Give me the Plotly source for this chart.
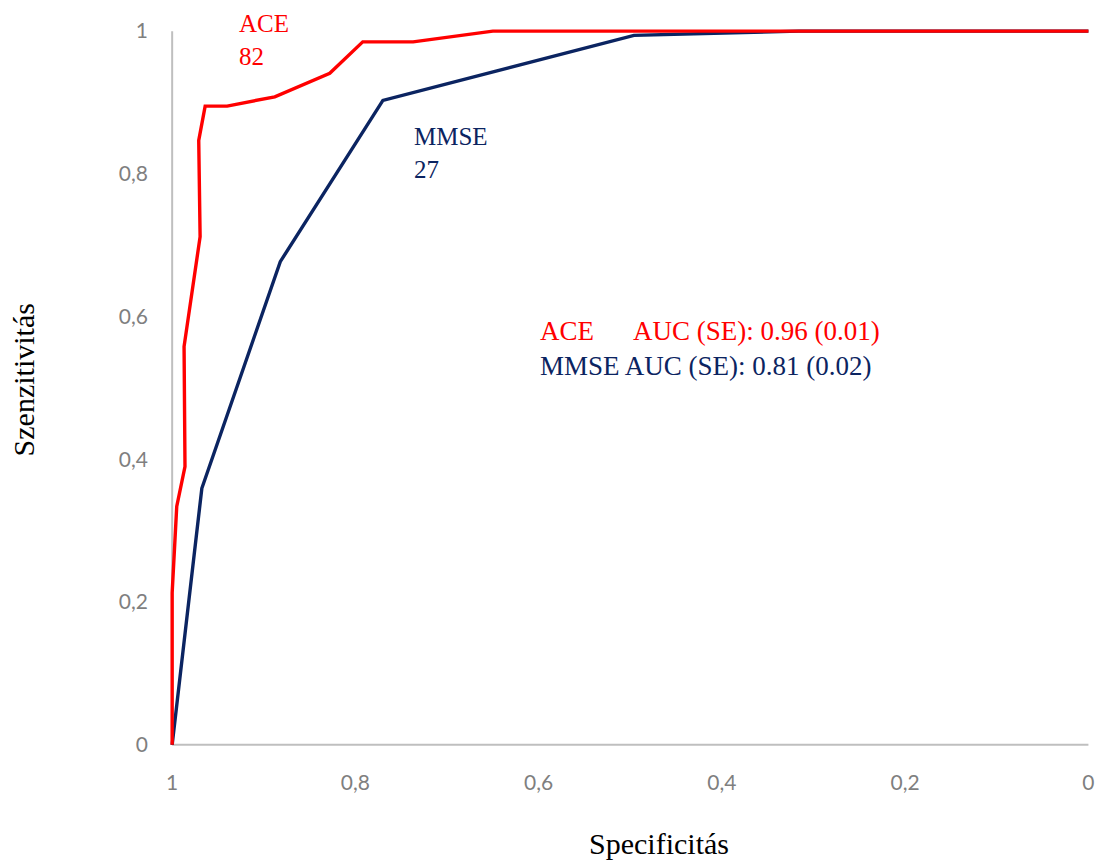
import plotly.graph_objects as go

# ACE ROC curve (specificity, sensitivity)
ace_spec = [1.0, 1.0, 0.995, 0.986, 0.987, 0.9695, 0.971, 0.964, 0.940, 0.888, 0.828, 0.792, 0.737, 0.650, 0.0]
ace_sens = [0.0, 0.213, 0.334, 0.39, 0.558, 0.712, 0.847, 0.895, 0.895, 0.908, 0.941, 0.985, 0.985, 1.0, 1.0]

# MMSE ROC curve
mmse_spec = [1.0, 0.9676, 0.882, 0.770, 0.496, 0.316, 0.0]
mmse_sens = [0.0, 0.3595, 0.677, 0.903, 0.994, 1.0, 1.0]

tick_vals = [0, 0.2, 0.4, 0.6, 0.8, 1]
tick_text = ["0", "0,2", "0,4", "0,6", "0,8", "1"]

RED = "#FF0000"
NAVY = "#0B2461"
GRID = "#BFBFBF"
TICKC = "#7F7F7F"
SERIF = "Liberation Serif, Times New Roman, serif"

fig = go.Figure()
fig.add_trace(go.Scatter(x=mmse_spec, y=mmse_sens, mode="lines",
                         line=dict(color=NAVY, width=3.4), name="MMSE"))
fig.add_trace(go.Scatter(x=ace_spec, y=ace_sens, mode="lines",
                         line=dict(color=RED, width=3.4), name="ACE"))

# axis lines at x=1 and y=0
fig.add_shape(type="line", x0=1, x1=1, y0=0, y1=1, xref="x", yref="y",
              line=dict(color=GRID, width=2), layer="below")
fig.add_shape(type="line", x0=1, x1=0, y0=0, y1=0, xref="x", yref="y",
              line=dict(color=GRID, width=2), layer="below")

fig.add_annotation(x=0.929, y=0.987, xref="x", yref="y", text="ACE<br>82",
                   showarrow=False, xanchor="left", yanchor="middle", align="left",
                   font=dict(family=SERIF, size=25, color=RED))
fig.add_annotation(x=0.738, y=0.829, xref="x", yref="y", text="MMSE<br>27",
                   showarrow=False, xanchor="left", yanchor="middle", align="left",
                   font=dict(family=SERIF, size=25, color=NAVY))
fig.add_annotation(x=0.601, y=0.556, xref="x", yref="y",
                   text=("<span style='color:%s'>ACE\u00a0\u00a0\u00a0\u00a0\u00a0 AUC (SE): 0.96 (0.01)</span><br>"
                         "<span style='color:%s'>MMSE AUC (SE): 0.81 (0.02)</span>") % (RED, NAVY),
                   showarrow=False, xanchor="left", yanchor="middle", align="left",
                   font=dict(family=SERIF, size=27, color=NAVY))

fig.add_annotation(x=-0.149, y=0.511, xref="paper", yref="paper", text="Szenzitivitás",
                   textangle=-90, showarrow=False, xanchor="center", yanchor="middle",
                   font=dict(family=SERIF, size=30, color="#000000"))
fig.add_annotation(x=0.533, y=-0.1, xref="paper", yref="paper", text="Specificitás",
                   showarrow=False, xanchor="center", yanchor="top",
                   font=dict(family=SERIF, size=30, color="#000000"))

fig.update_layout(
    width=1097, height=861,
    margin=dict(l=163, r=2, t=24, b=109),
    paper_bgcolor="white", plot_bgcolor="white",
    showlegend=False,
    xaxis=dict(range=[1.01, -0.005], tickvals=tick_vals, ticktext=tick_text,
               showgrid=False, zeroline=False, showline=False, ticks="",
               ticklabelstandoff=16,
               tickfont=dict(family="Lato, Open Sans, sans-serif", size=21, color=TICKC)),
    yaxis=dict(range=[-0.01, 1.01], tickvals=tick_vals, ticktext=tick_text,
               showgrid=False, zeroline=False, showline=False, ticks="",
               ticklabelstandoff=14,
               tickfont=dict(family="Lato, Open Sans, sans-serif", size=21, color=TICKC)),
)

fig.write_html(
    "out.html",
    config={"displayModeBar": False},
    post_script="document.body.style.margin='0px';"
                "document.documentElement.style.overflow='hidden';"
                "document.body.style.overflow='hidden';",
)
